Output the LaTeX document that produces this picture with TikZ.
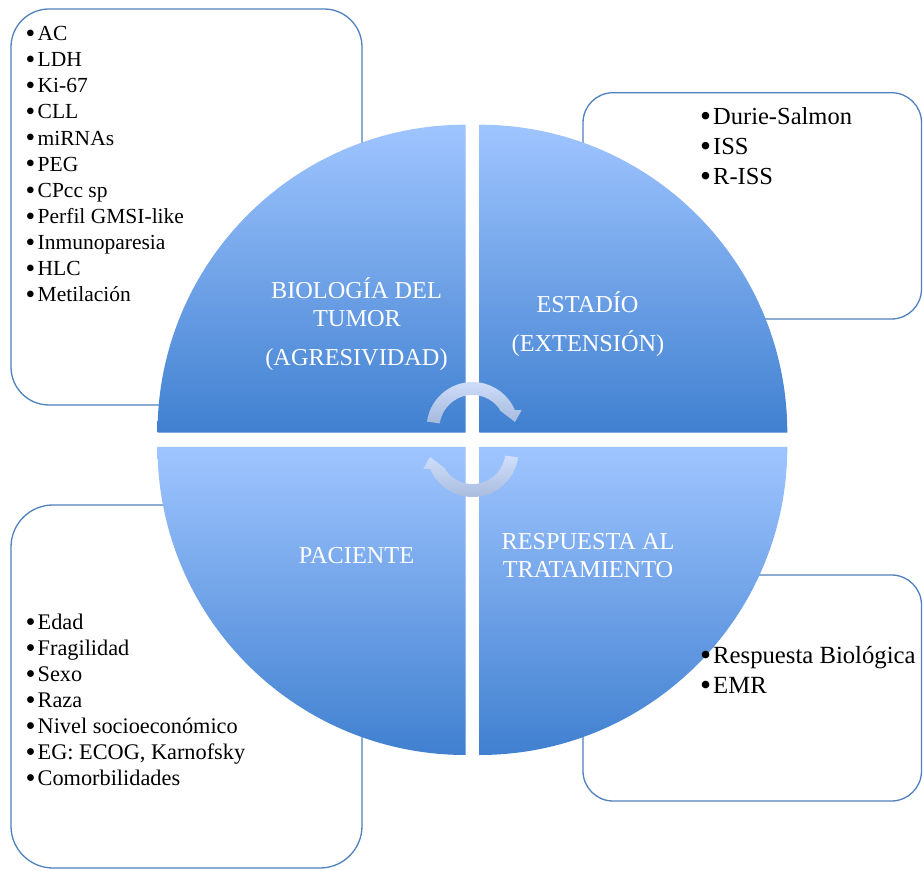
\documentclass[tikz,border=0pt]{standalone}
\usepackage{fontspec}
\usepackage{graphicx}
\setmainfont{Liberation Serif}
\usetikzlibrary{calc}
\definecolor{boxline}{RGB}{79,129,189}
\definecolor{qlight}{RGB}{159,197,255}
\definecolor{qdark}{RGB}{64,128,208}
\definecolor{alight}{RGB}{208,223,251}
\definecolor{adark}{RGB}{166,186,221}
\newcommand{\mybul}{\smash{\raisebox{-0.08em}{\scalebox{1.28}{\textbullet}}}}
\begin{document}
\begin{tikzpicture}[x=1pt,y=1pt,
  listbox/.style={draw=boxline, line width=1.3pt, fill=white, rounded corners=#1, inner sep=0pt},
  quarter/.style={top color=qlight, bottom color=qdark, draw=none},
  arrowst/.style={top color=alight, bottom color=adark, draw=none},
  lab/.style={text=white, font=\fontsize{24.3}{28}\selectfont, anchor=base, inner sep=0pt},
  item/.style={anchor=base west, inner sep=0pt, text=black}]
\useasboundingbox (0,0) rectangle (923,870);
\fill[white] (0,0) rectangle (923,870);

% list boxes
\node[listbox=38, minimum width=351, minimum height=396] (b1) at (186.5,663) {};
\node[listbox=30, minimum width=338.5, minimum height=226.3] (b2) at (752.25,664.15) {};
\node[listbox=42, minimum width=351, minimum height=363] (b3) at (186.5,183.5) {};
\node[listbox=30, minimum width=338.5, minimum height=226] (b4) at (752.25,182) {};

% circle quarters
\shade[quarter] (465.5,437.3) -- ++(-308,0) arc[start angle=180, end angle=90, radius=308] -- cycle;
\shade[quarter] (479.3,437.3) -- ++(0,308) arc[start angle=90, end angle=0, radius=308] -- cycle;
\shade[quarter] (465.5,423) -- ++(0,-308) arc[start angle=270, end angle=180, radius=308] -- cycle;
\shade[quarter] (479.3,423) -- ++(308,0) arc[start angle=0, end angle=-90, radius=308] -- cycle;

% circular arrows
\coordinate (c1) at (472.5,442);
\coordinate (c2) at (472.5,419);
\shade[arrowst] ($(c1)+(172:46)$) arc[start angle=172, end angle=23, radius=46]
  -- (521.7,460) -- (515,448) -- (499.3,460)
  -- ($(c1)+(33:33)$) arc[start angle=33, end angle=172, radius=33] -- cycle;
\shade[arrowst] ($(c2)+(352:46)$) arc[start angle=352, end angle=203, radius=46]
  -- (423.3,401) -- (430,413) -- (445.7,401)
  -- ($(c2)+(213:33)$) arc[start angle=213, end angle=352, radius=33] -- cycle;

% quarter labels
\node[lab] (l1) at (356.5,571) {BIOLOGÍA DEL};
\node[lab] (l2) at (357,543.3) {TUMOR};
\node[lab] (l3) at (356.5,504) {(AGRESIVIDAD)};
\node[lab] (l4) at (587.5,557.7) {ESTADÍO};
\node[lab] (l5) at (588,518.3) {(EXTENSIÓN)};
\node[lab] (l6) at (356.5,306.7) {PACIENTE};
\node[lab] (l7) at (588,320.7) {RESPUESTA AL};
\node[lab] (l8) at (588,292.3) {TRATAMIENTO};

% lists
\foreach \t [count=\i] in {AC,LDH,Ki-67,CLL,miRNAs,PEG,CPcc sp,Perfil GMSI-like,Inmunoparesia,HLC,Metilación}
  \node[item, font=\fontsize{21.5}{26}\selectfont] (tl\i) at (25.5,{829.3-26.1*(\i-1)}) {\makebox[12pt][l]{\mybul}\t};
\foreach \t [count=\i] in {Durie-Salmon,ISS,R-ISS}
  \node[item, font=\fontsize{24.5}{29}\selectfont] (tr\i) at (700,{745-29.7*(\i-1)}) {\makebox[13pt][l]{\mybul}\t};
\foreach \t [count=\i] in {Edad,Fragilidad,Sexo,Raza,Nivel socioeconómico,{EG: ECOG, Karnofsky},Comorbilidades}
  \node[item, font=\fontsize{22.3}{26}\selectfont] (bl\i) at (25.5,{240.7-26.1*(\i-1)}) {\makebox[12pt][l]{\mybul}\t};
\foreach \t [count=\i] in {Respuesta Biológica,EMR}
  \node[item, font=\fontsize{24.7}{30}\selectfont] (br\i) at (700,{206-30*(\i-1)}) {\makebox[13pt][l]{\mybul}\t};
\end{tikzpicture}
\end{document}
